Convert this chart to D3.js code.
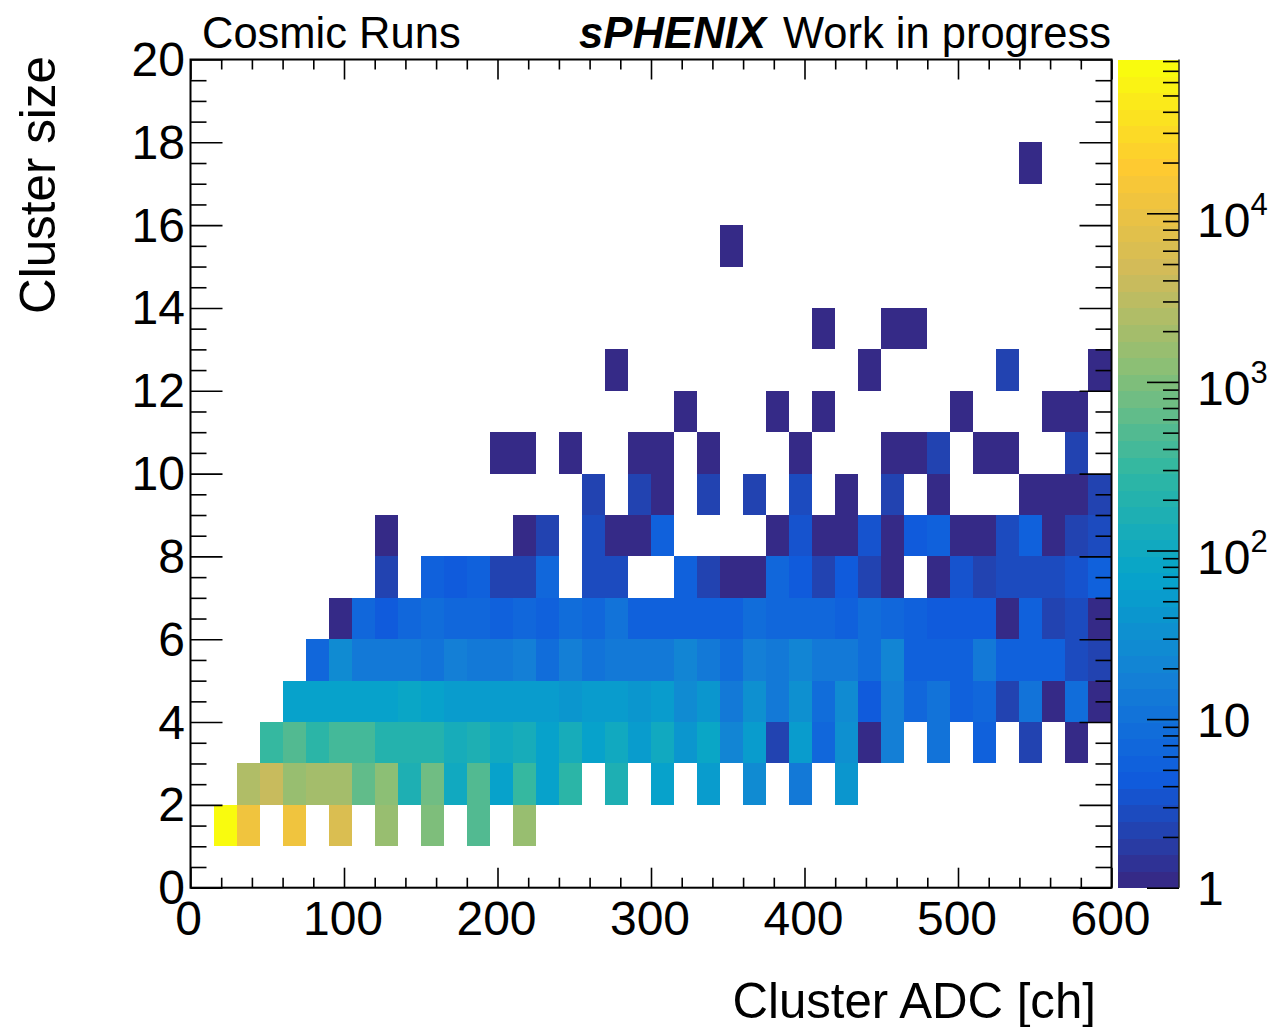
<!DOCTYPE html>
<html><head><meta charset="utf-8">
<script src="https://cdn.jsdelivr.net/npm/d3@7"></script>
<style>html,body{margin:0;padding:0;background:#fff}svg{display:block}text{font-family:"Liberation Sans",Arial,sans-serif;fill:#000}</style>
</head><body><svg id="c" width="1272" height="1027"></svg>
<script>
// Counts per row of the histogram; each array holds 40 ADC bins (15 ch wide), 0 = empty.
const row1  = [0,80000,12000,0,12000,0,6000,0,1400,0,900,0,500,0,1400,0,0,0,0,0,0,0,0,0,0,0,0,0,0,0,0,0,0,0,0,0,0,0,0,0];
const row2  = [0,0,2200,3500,1500,2000,2000,700,1200,180,800,110,550,70,300,70,230,0,180,0,65,0,55,0,28,0,15,0,38,0,0,0,0,0,0,0,0,0,0,0];
const row3  = [0,0,0,340,480,280,370,370,210,210,210,140,180,110,130,70,135,60,100,48,95,38,75,20,55,2,55,7,30,1,18,0,12,0,6,0,2,0,1,0];
const row4  = [0,0,0,0,62,62,62,62,62,75,62,58,54,54,52,52,40,50,48,40,50,27,45,15,32,14,30,8,24,4,18,7,10,6,7,2,10,1,8,1];
const row5  = [0,0,0,0,0,7,26,15,13,15,12,18,14,15,16,9,17,12,13,13,15,19,14,8,17,15,20,14,14,8,20,5,6,5,13,5,6,5,3,2];
const row6  = [0,0,0,0,0,0,1,7,4.5,7,9,7,7,5.5,7,5,9,7,10,6,5,5.5,5.5,5,8,7,7,7,6,9,7,6,4.5,4.5,4.5,1,5,2,3,1];
const row7  = [0,0,0,0,0,0,0,0,2,0,5,4,5,2,2,7,0,3,3,0,0,6,2,1,1,7,4,2,4,2,1,0,1,3.5,2,3,3,2.5,3.5,5];
const row8  = [0,0,0,0,0,0,0,0,1,0,0,0,0,0,1,2,0,3,1,1,6,0,0,0,0,1,3.5,1,1,3.5,1,4.5,5,1,1,2.5,5,1,2,3];
const row9  = [0,0,0,0,0,0,0,0,0,0,0,0,0,0,0,0,0,2,0,2,1,0,2,0,2,0,3,0,1,0,2,0,1,0,0,0,1,1,1,2];
const row10 = [0,0,0,0,0,0,0,0,0,0,0,0,0,1,1,0,1,0,0,1,1,0,1,0,0,0,1,0,0,0,1,1,2,0,1,1,0,0,2,0];
const row11 = [0,0,0,0,0,0,0,0,0,0,0,0,0,0,0,0,0,0,0,0,0,1,0,0,0,1,0,1,0,0,0,0,0,1,0,0,0,1,1,0];
const row12 = [0,0,0,0,0,0,0,0,0,0,0,0,0,0,0,0,0,0,1,0,0,0,0,0,0,0,0,0,0,1,0,0,0,0,0,2,0,0,0,1];
const row13 = [0,0,0,0,0,0,0,0,0,0,0,0,0,0,0,0,0,0,0,0,0,0,0,0,0,0,0,1,0,0,1,1,0,0,0,0,0,0,0,0];
const row15 = [0,0,0,0,0,0,0,0,0,0,0,0,0,0,0,0,0,0,0,0,0,0,0,1,0,0,0,0,0,0,0,0,0,0,0,0,0,0,0,0];
const row17 = [0,0,0,0,0,0,0,0,0,0,0,0,0,0,0,0,0,0,0,0,0,0,0,0,0,0,0,0,0,0,0,0,0,0,0,0,1,0,0,0];
const rows = [[1,row1],[2,row2],[3,row3],[4,row4],[5,row5],[6,row6],[7,row7],[8,row8],[9,row9],[10,row10],[11,row11],[12,row12],[13,row13],[15,row15],[17,row17]];

const binWidth = 15, zMin = 1, zMax = 81700, nContours = 50;
const xTicksMajor = [0,100,200,300,400,500,600];
const yTicksMajor = [0,2,4,6,8,10,12,14,16,18,20];
const zTicksMajor = [1,10,100,1000,10000];
const zTicksMinor = [2,3,4,5,6,7,8,9,20,30,40,50,60,70,80,90,200,300,400,500,600,700,800,900,2000,3000,4000,5000,6000,7000,8000,9000,20000,30000,40000,50000,60000,70000,80000];
// ROOT kBird palette
const birdStops = [0,0.125,0.25,0.375,0.5,0.625,0.75,0.875,1];
const birdR = [0.2082,0.0592,0.0780,0.0232,0.1802,0.5301,0.8186,0.9956,0.9764];
const birdG = [0.1664,0.3599,0.5041,0.6419,0.7178,0.7492,0.7328,0.7862,0.9832];
const birdB = [0.5293,0.8684,0.8385,0.7914,0.6425,0.4662,0.3499,0.1968,0.0539];

const L=190.5,R=1111.5,T=59.5,B=887.7,cL=1117.5,cR=1179;
const x=d3.scaleLinear().domain([0,600]).range([L,R]);
const y=d3.scaleLinear().domain([0,20]).range([B,T]);
const z=d3.scaleLog().domain([zMin,zMax]).range([0,1]);
const zy=d3.scaleLog().domain([zMin,zMax]).range([B,T]);
const ch=c=>d3.scaleLinear().domain(birdStops).range(c);
const cr=ch(birdR),cg=ch(birdG),cb=ch(birdB);
const bird=t=>d3.rgb(cr(t)*255,cg(t)*255,cb(t)*255).formatHex();
const band=v=>Math.min(nContours-1,Math.floor(z(v)*nContours+1e-9));
const color=v=>bird(band(v)/(nContours-1));

const svg=d3.select("#c");
// cells
const cells=rows.flatMap(([r,a])=>a.map((v,i)=>({r,i,v}))).filter(d=>d.v>0);
svg.append("g").attr("shape-rendering","crispEdges").selectAll("rect").data(cells).join("rect")
 .attr("x",d=>x(d.i*binWidth)).attr("width",d=>x((d.i+1)*binWidth)-x(d.i*binWidth))
 .attr("y",d=>y(d.r+1)).attr("height",d=>y(d.r)-y(d.r+1)).attr("fill",d=>color(d.v));
// palette bar
const levels=d3.range(nContours);
const lv=k=>zMin*Math.pow(zMax/zMin,k/nContours);
svg.append("g").attr("shape-rendering","crispEdges").selectAll("rect").data(levels).join("rect")
 .attr("x",cL).attr("width",cR-cL).attr("y",k=>zy(lv(k+1))).attr("height",k=>zy(lv(k))-zy(lv(k+1))+0.5)
 .attr("fill",k=>bird(k/(nContours-1)));

function ax(gen,tx,ty,sw){
  const g=svg.append("g").attr("transform",`translate(${tx},${ty})`).call(gen);
  g.select(".domain").remove();
  g.selectAll(".tick line").attr("stroke","#000").attr("stroke-width",sw);
  g.selectAll(".tick text").remove();
  return g;
}
const xMinor=d3.range(0,601,20).filter(v=>v%100);
const yMinor=d3.range(0,20.01,0.5).filter(v=>v%2);
ax(d3.axisBottom(x).tickValues(xTicksMajor).tickSize(-20).tickSizeOuter(0),0,B,1.6);
ax(d3.axisBottom(x).tickValues(xMinor).tickSize(-10).tickSizeOuter(0),0,B,1.6);
ax(d3.axisTop(x).tickValues(xTicksMajor).tickSize(-20).tickSizeOuter(0),0,T,1.6);
ax(d3.axisTop(x).tickValues(xMinor).tickSize(-10).tickSizeOuter(0),0,T,1.6);
ax(d3.axisLeft(y).tickValues(yTicksMajor).tickSize(-32).tickSizeOuter(0),L,0,1.6);
ax(d3.axisLeft(y).tickValues(yMinor).tickSize(-16).tickSizeOuter(0),L,0,1.6);
ax(d3.axisRight(y).tickValues(yTicksMajor).tickSize(-32).tickSizeOuter(0),R,0,1.6);
ax(d3.axisRight(y).tickValues(yMinor).tickSize(-16).tickSizeOuter(0),R,0,1.6);
ax(d3.axisRight(zy).tickValues(zTicksMajor).tickSize(-32).tickSizeOuter(0),cR,0,1.6);
ax(d3.axisRight(zy).tickValues(zTicksMinor).tickSize(-16).tickSizeOuter(0),cR,0,1.6);
svg.append("rect").attr("x",L).attr("y",T).attr("width",R-L).attr("height",B-T).attr("fill","none").attr("stroke","#000").attr("stroke-width",2);
svg.append("line").attr("x1",cR).attr("x2",cR).attr("y1",T).attr("y2",B).attr("stroke","#222").attr("stroke-width",1.5);

const fs=48;
svg.append("g").selectAll("text").data(xTicksMajor).join("text").attr("x",d=>x(d)-(d==0?1:0)-1).attr("y",935)
  .attr("text-anchor","middle").attr("font-size",fs).text(d=>d);
svg.append("g").selectAll("text").data(yTicksMajor).join("text").attr("x",185).attr("y",d=>y(d)+16.5)
  .attr("text-anchor","end").attr("font-size",fs).text(d=>d);
const zl=svg.append("g").selectAll("text").data(zTicksMajor).join("text")
  .attr("x",1197).attr("y",d=>zy(d)+(d>=100?23.5:17.5)).attr("font-size",fs);
zl.each(function(d){
  const e=Math.round(Math.log10(d)),t=d3.select(this);
  if(e<2){t.text(d);return;}
  t.append("tspan").text("10");
  t.append("tspan").attr("font-size",31).attr("dy",-22).text(e);
});
svg.append("text").attr("x",1096).attr("y",1018).attr("text-anchor","end").attr("font-size",49.2).text("Cluster ADC [ch]");
svg.append("text").attr("transform","translate(55,56) rotate(-90)").attr("text-anchor","end").attr("font-size",49.4).text("Cluster size");
svg.append("text").attr("x",202).attr("y",48).attr("font-size",43.5).text("Cosmic Runs");
svg.append("text").attr("x",579).attr("y",48).attr("font-size",43.7).attr("font-weight","bold").attr("font-style","italic").text("sPHENIX");
svg.append("text").attr("x",1111).attr("y",48).attr("text-anchor","end").attr("font-size",43.5).text("Work in progress");
</script></body></html>
